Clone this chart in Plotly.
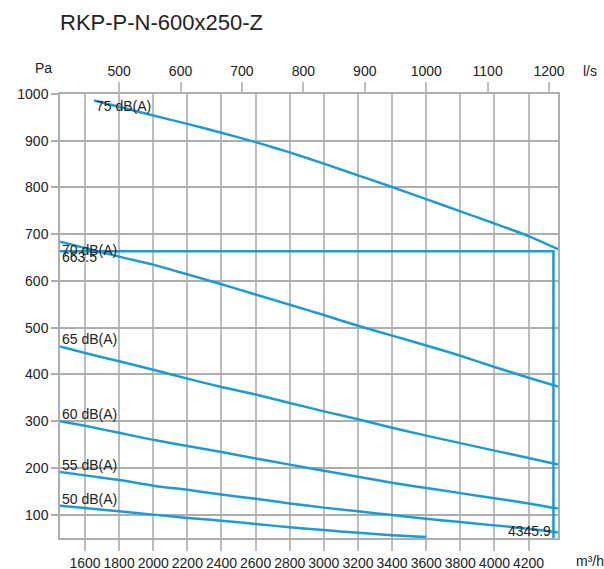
import plotly.graph_objects as go

# ---- data ----
flow_75 = [1653, 2000, 2200, 2400, 2600, 2800, 3000, 3200, 3400, 3600, 3800, 4000, 4200, 4372.5]
pa_75 = [986, 954, 936, 917, 897, 875, 851, 826, 801, 775, 749, 723, 696, 668]

flow_70 = [1453.5, 1800, 2000, 2200, 2400, 2600, 2800, 3000, 3200, 3400, 3600, 3800, 4000, 4200, 4372.5]
pa_70 = [684, 652, 635, 614, 593, 571, 549, 527, 504, 483, 462, 440, 416, 393, 374]

flow_65 = [1453.5, 1600, 1800, 2000, 2200, 2400, 2600, 2800, 3000, 3200, 3400, 3600, 3800, 4000, 4200, 4372.5]
pa_65 = [460, 446, 428, 410, 391, 373, 357, 339, 321, 304, 286, 269, 253, 237, 221, 207]

flow_60 = [1453.5, 1600, 1800, 2000, 2200, 2400, 2600, 2800, 3000, 3200, 3400, 3600, 3800, 4000, 4200, 4372.5]
pa_60 = [300, 290, 275, 260, 247, 234, 220, 207, 194, 181, 168, 157, 146, 135, 124, 113]

flow_55 = [1453.5, 1600, 1800, 2000, 2200, 2400, 2600, 2800, 3000, 3200, 3400, 3600, 3800, 4000, 4200, 4372.5]
pa_55 = [191, 184, 174, 162, 153, 143, 134, 124, 115, 107, 99, 91, 84, 77, 70, 62]

flow_50 = [1453.5, 1600, 1800, 2000, 2200, 2400, 2600, 2800, 3000, 3200, 3400, 3600]
pa_50 = [119, 114, 107, 100, 93, 87, 80, 73, 67, 61, 56, 52]

curve_labels = ["75 dB(A)", "70 dB(A)", "65 dB(A)", "60 dB(A)", "55 dB(A)", "50 dB(A)"]

op_flow = 4345.9
op_pressure = 663.5

x_range = [1453.5, 4372.5]
y_range = [50, 1000]
m3h_ticks = [1600, 1800, 2000, 2200, 2400, 2600, 2800, 3000, 3200, 3400, 3600, 3800, 4000, 4200]
ls_ticks = [500, 600, 700, 800, 900, 1000, 1100, 1200]
pa_ticks = [100, 200, 300, 400, 500, 600, 700, 800, 900, 1000]
LS_PER_M3H = 1 / 3.6

# ---- style ----
BLUE = "#1B9AD6"
GRID_V = "#BDBDBD"
GRID_H = "#ADADAD"
TXT = "#222222"
FONT = "Liberation Sans, Arial, sans-serif"

W, H = 604, 569
L, T = 60, 94
R = W - 558
B = H - 538
PW, PH = W - L - R, H - T - B


def px(xp):
    return (xp - L) / PW


def py(yp):
    return (H - B - yp) / PH


fig = go.Figure()

curves = [(flow_75, pa_75), (flow_70, pa_70), (flow_65, pa_65),
          (flow_60, pa_60), (flow_55, pa_55), (flow_50, pa_50)]
for (fx, fy), name in zip(curves, curve_labels):
    fig.add_trace(go.Scatter(x=fx, y=fy, mode="lines", name=name,
                             line=dict(color=BLUE, width=2.5, shape="spline", smoothing=0.6),
                             showlegend=False, hoverinfo="skip"))

# operating point lines
fig.add_trace(go.Scatter(x=[x_range[0], op_flow, op_flow],
                         y=[op_pressure, op_pressure, y_range[0]],
                         mode="lines", line=dict(color=BLUE, width=2.5),
                         showlegend=False, hoverinfo="skip"))

# invisible trace to activate the top (l/s) axis
fig.add_trace(go.Scatter(x=[v * LS_PER_M3H for v in x_range], y=[None, None],
                         xaxis="x2", mode="lines", showlegend=False,
                         hoverinfo="skip"))

tickfont = dict(family=FONT, size=14, color=TXT)

fig.update_layout(
    width=W, height=H,
    margin=dict(l=L, r=R, t=T, b=B, pad=0, autoexpand=False),
    paper_bgcolor="white", plot_bgcolor="white",
    showlegend=False,
    font=dict(family=FONT, size=14, color=TXT),
    title=dict(text="RKP-P-N-600x250-Z", x=60 / W, xanchor="left",
               xref="container", y=1 - 22 / H, yanchor="middle", yref="container",
               font=dict(family=FONT, size=22, color=TXT)),
    xaxis=dict(range=x_range, tickvals=m3h_ticks, ticks="outside", ticklen=11,
               tickwidth=2, tickcolor=GRID_V, showgrid=True, gridcolor=GRID_V,
               gridwidth=2, showline=True, linecolor=GRID_H, linewidth=1.5,
               mirror=True, zeroline=False, tickfont=tickfont, automargin=False),
    xaxis2=dict(range=[v * LS_PER_M3H for v in x_range], tickvals=ls_ticks,
                overlaying="x", side="top", ticks="outside", ticklen=11,
                tickwidth=2, tickcolor=GRID_V, showgrid=False, zeroline=False,
                showline=False, tickfont=tickfont, automargin=False),
    yaxis=dict(range=y_range, tickvals=pa_ticks, ticks="outside", ticklen=7,
               tickwidth=1.5, tickcolor=GRID_H, showgrid=True, gridcolor=GRID_H,
               gridwidth=1.5, showline=True, linecolor=GRID_H, linewidth=1.5,
               mirror=True, zeroline=False, tickfont=tickfont, automargin=False),
)

ann = []
# curve labels
ann.append(dict(x=flow_75[0], y=pa_75[0], text=curve_labels[0], xanchor="left",
                yanchor="top", showarrow=False, xref="x", yref="y", yshift=5))
ann.append(dict(x=flow_70[0], y=pa_70[0], text=curve_labels[1], xanchor="left",
                yanchor="top", showarrow=False, xref="x", yref="y", yshift=2))
for (fx, fy), name in zip(curves[2:], curve_labels[2:]):
    ann.append(dict(x=fx[0], y=fy[0], text=name, xanchor="left", yanchor="bottom",
                    showarrow=False, xref="x", yref="y", yshift=-3))
# operating point values
ann.append(dict(x=x_range[0], y=op_pressure, text=f"{op_pressure}", xanchor="left",
                yanchor="top", showarrow=False, xref="x", yref="y", yshift=4))
ann.append(dict(x=op_flow, y=y_range[0], text=f"{op_flow}", xanchor="right",
                yanchor="bottom", showarrow=False, xref="x", yref="y", yshift=-3))
# axis titles
ann.append(dict(x=px(43), y=py(68), text="Pa", xanchor="center", yanchor="middle",
                showarrow=False, xref="paper", yref="paper"))
ann.append(dict(x=px(581), y=py(71), text="l/s", xanchor="left", yanchor="middle",
                showarrow=False, xref="paper", yref="paper"))
ann.append(dict(x=px(574), y=py(561), text="m³/h", xanchor="left", yanchor="middle",
                showarrow=False, xref="paper", yref="paper"))
for a in ann:
    a["font"] = dict(family=FONT, size=14, color=TXT)
fig.update_layout(annotations=ann)

fig.write_html(
    "out.html",
    config={"displayModeBar": False},
    post_script="document.body.style.margin='0';document.body.style.overflow='hidden';",
)
